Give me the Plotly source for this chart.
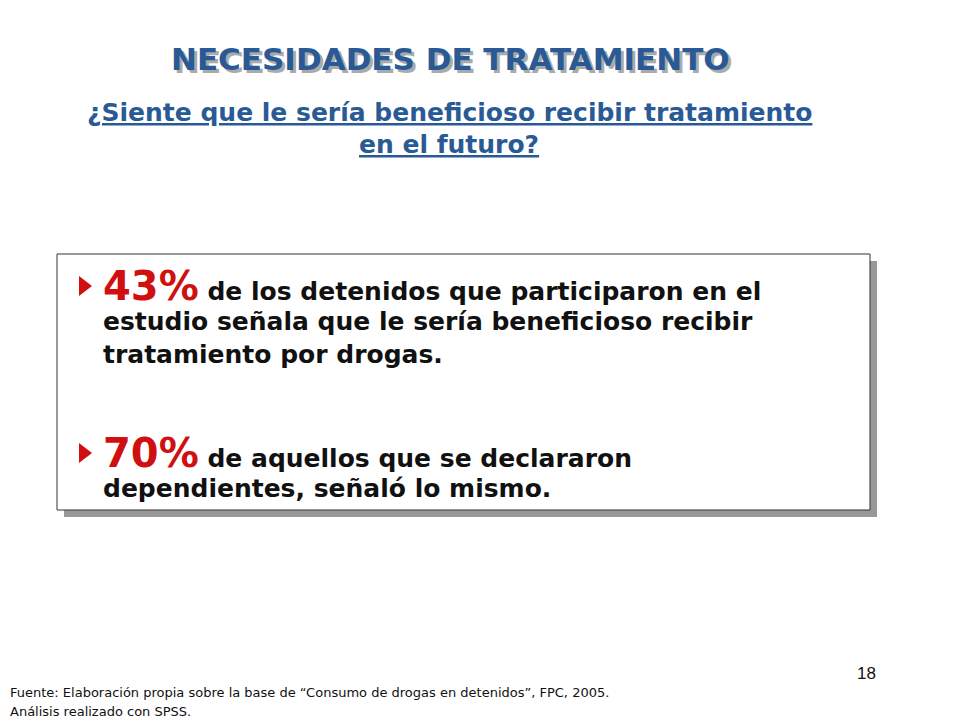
import plotly.graph_objects as go

pcts = ["43%", "70%"]
bullet_lines = [
    [" de los detenidos que participaron en el", "estudio señala que le sería beneficioso recibir", "tratamiento por drogas."],
    [" de aquellos que se declararon", "dependientes, señaló lo mismo."],
]
bullet_y = [286, 453]
title = "NECESIDADES DE TRATAMIENTO"
subtitle = ["¿Siente que le sería beneficioso recibir tratamiento", "en el futuro?"]
footer = ["Fuente: Elaboración propia sobre la base de “Consumo de drogas en detenidos”, FPC, 2005.",
          "Análisis realizado con SPSS."]

F = "DejaVu Sans"
fig = go.Figure()
fig.update_layout(width=960, height=720, margin=dict(l=0, r=0, t=0, b=0),
                  paper_bgcolor="white", plot_bgcolor="white", showlegend=False,
                  xaxis=dict(range=[8, 968], visible=False, fixedrange=True),
                  yaxis=dict(range=[728, 8], visible=False, fixedrange=True))
shapes = [
    dict(type="rect", x0=64, y0=261, x1=877, y1=517, fillcolor="#999999", line=dict(width=0)),
    dict(type="rect", x0=57, y0=254, x1=870, y1=510, fillcolor="white", line=dict(color="#333333", width=1)),
]
ann = []
ann.append(dict(x=453, y=62, text="<b>"+title+"</b>", font=dict(family=F, size=31, color="#aaaaaa")))
ann.append(dict(x=450, y=59, text="<b>"+title+"</b>", font=dict(family=F, size=31, color="#2a5a96")))
for i, s in enumerate(subtitle):
    ann.append(dict(x=449, y=112 + 32*i, text="<b><u>"+s+"</u></b>", font=dict(family=F, size=25, color="#2a5a96")))
for p, lines, y in zip(pcts, bullet_lines, bullet_y):
    shapes.append(dict(type="path", path=f"M 79 {y-10} L 92 {y} L 79 {y+10} Z", fillcolor="#d01010", line=dict(width=0)))
    ann.append(dict(x=101, y=y, xanchor="left",
                    text=f"<b><span style='font-size:40px;color:#d01010'>{p}</span>{lines[0]}</b>",
                    font=dict(family=F, size=25, color="#111111")))
    for j, l in enumerate(lines[1:]):
        ann.append(dict(x=101, y=y + 33*(j+1) + 2, xanchor="left", text="<b>"+l+"</b>",
                        font=dict(family=F, size=25, color="#111111")))
ann.append(dict(x=866, y=673, text="18", font=dict(family="Liberation Sans", size=17, color="#111111")))
for i, s in enumerate(footer):
    ann.append(dict(x=8, y=692 + 19*i, xanchor="left", text=s, font=dict(family=F, size=13, color="#111111")))
for a in ann:
    a.update(xref="x", yref="y", showarrow=False, yanchor="middle")
fig.update_layout(shapes=shapes, annotations=ann)
fig.write_html("out.html")
